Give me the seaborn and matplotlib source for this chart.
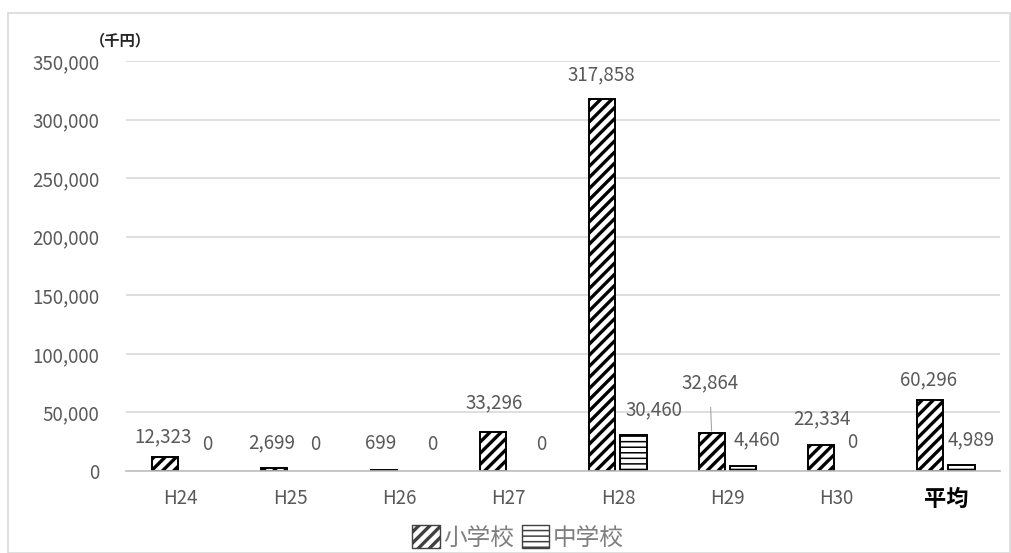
import matplotlib
matplotlib.use("Agg")
import matplotlib.pyplot as plt
import pandas as pd
import seaborn as sns
from matplotlib.patches import Patch, Rectangle
from matplotlib.ticker import FuncFormatter

# ---- data (千円) ----
years = ["H24", "H25", "H26", "H27", "H28", "H29", "H30", "平均"]
elementary = [12323, 2699, 699, 33296, 317858, 32864, 22334, 60296]
junior_high = [0, 0, 0, 0, 30460, 4460, 0, 4989]
series_names = ["小学校", "中学校"]
y_ticks = [0, 50000, 100000, 150000, 200000, 250000, 300000, 350000]

# label placement relative to each bar's top centre (pixels: dx, up)
elem_label_offsets = [(-2, 20), (-3, 25), (-3, 27), (1, 29), (-1, 24), (-2, 50), (1, 26), (-2, 21)]
jh_label_offsets = [(11, 26), (10, 26), (17, 26), (17, 26), (20, 26), (14, 26), (0, 29), (10, 25)]
elem_leader = [False, False, False, False, False, True, False, False]

sns.set_theme(style="white")
plt.rcParams["font.family"] = ["Noto Sans CJK JP", "DejaVu Sans"]
plt.rcParams["hatch.linewidth"] = 2.4

hatches = ["///", "---"]
hatch_widths = [2.4, 1.1]


def set_hatch_width(patch, lw):
    if hasattr(patch, "set_hatch_linewidth"):
        patch.set_hatch_linewidth(lw)


W, H = 1012, 553
fig = plt.figure(figsize=(W / 100, H / 100), dpi=100)
fig.patch.set_facecolor("white")

# outer chart frame
fig.add_artist(Rectangle((8 / W, 0.0), (W - 10) / W, (H - 13) / H,
                         transform=fig.transFigure, fill=False,
                         edgecolor="#d9d9d9", linewidth=1.2))

ax = fig.add_axes([126 / W, 82 / H, 874.5 / W, 410 / H])

df = pd.DataFrame({
    "年度": years * 2,
    "金額": elementary + junior_high,
    "区分": [series_names[0]] * len(years) + [series_names[1]] * len(years),
})

sns.barplot(data=df, x="年度", y="金額", hue="区分", order=years,
            hue_order=series_names, palette=["white", "white"],
            edgecolor="black", linewidth=1.4, width=0.57, gap=0.16,
            errorbar=None, legend=False, ax=ax)

label_color = "#595959"
for container, values, hatch, hw, offsets in zip(
        ax.containers, [elementary, junior_high], hatches, hatch_widths,
        [elem_label_offsets, jh_label_offsets]):
    for i, (bar, v, (dx, up)) in enumerate(zip(container, values, offsets)):
        bar.set_hatch(hatch)
        set_hatch_width(bar, hw)
        if v == 0:
            bar.set_linewidth(0)
        x = bar.get_x() + bar.get_width() / 2
        y = bar.get_height()
        leader = hatch == hatches[0] and elem_leader[i]
        ax.annotate(f"{v:,}", xy=(x, y), xytext=(dx, up),
                    textcoords="offset pixels", ha="center", va="center",
                    color=label_color, fontsize=13.5,
                    arrowprops=dict(arrowstyle="-", color="#a6a6a6", lw=0.8,
                                    shrinkA=8, shrinkB=1) if leader else None)

ax.set_ylim(0, 350000)
ax.set_yticks(y_ticks)
ax.yaxis.set_major_formatter(FuncFormatter(lambda v, _: f"{int(v):,}"))
ax.set_xlim(-0.5, len(years) - 0.5)
ax.set_xlabel("")
ax.set_ylabel("")

ax.yaxis.grid(True, color="#d9d9d9", linewidth=1.2)
ax.set_axisbelow(True)
for side in ["left", "right", "top"]:
    ax.spines[side].set_visible(False)
ax.spines["bottom"].set_color("#bfbfbf")
ax.spines["bottom"].set_linewidth(1.2)

ax.tick_params(axis="y", length=0, pad=19, labelsize=13.5, labelcolor=label_color)
ax.tick_params(axis="x", length=0, pad=12, labelsize=13.5, labelcolor=label_color)
for t in ax.get_xticklabels():
    if t.get_text() == "平均":
        t.set_fontweight("bold")
        t.set_fontsize(16)
        t.set_color("black")

fig.text(120 / W, 1 - 40 / H, "（千円）", ha="center", va="center",
         fontsize=11, fontweight="bold", color="#262626")

handles = [Patch(facecolor="white", edgecolor="#404040", hatch=h, label=n)
           for h, n in zip(hatches, series_names)]
leg = fig.legend(handles=handles, loc="center", bbox_to_anchor=(518 / W, 1 - 537 / H),
                 ncol=2, frameon=False, handlelength=1.18, handleheight=1.18,
                 handletextpad=0.15, columnspacing=0.3, fontsize=17,
                 labelcolor="#7f7f7f", borderpad=0)
for lp, hw in zip(leg.get_patches(), hatch_widths):
    set_hatch_width(lp, hw)

fig.savefig("out.png", dpi=100, facecolor="white")
